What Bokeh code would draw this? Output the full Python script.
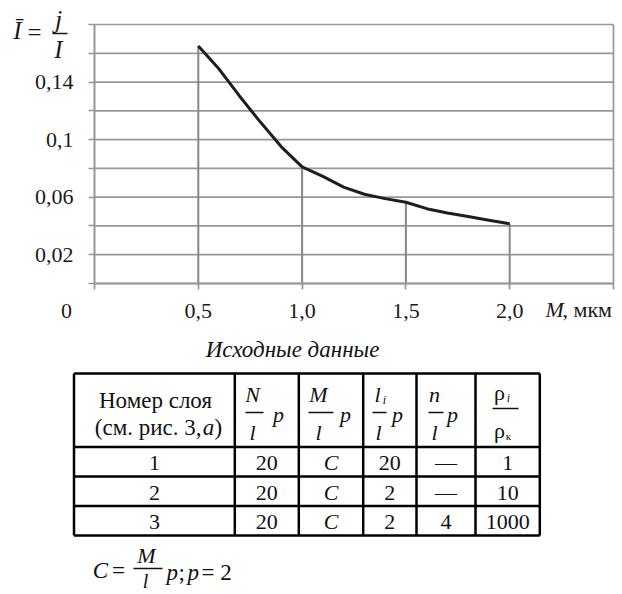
from bokeh.plotting import figure
from bokeh.models import Range1d, FixedTicker, Label
from bokeh.layouts import column
from bokeh.embed import file_html
from bokeh.resources import INLINE
from bokeh.core.properties import value

# ---------------- data ----------------
m_um = [0.5, 0.6, 0.7, 0.8, 0.9, 1.0, 1.1, 1.2, 1.3, 1.4, 1.5, 1.6, 1.7, 1.8, 1.9, 2.0]
i_rel = [0.165, 0.149, 0.130, 0.112, 0.095, 0.081, 0.0745, 0.067, 0.062, 0.059,
         0.0565, 0.052, 0.049, 0.0465, 0.044, 0.0415]
drop_m = [0.5, 1.0, 1.5, 2.0]

x_tick_values = [0.0, 0.5, 1.0, 1.5, 2.0, 2.5]
x_tick_labels = ["", "0,5", "1,0", "1,5", "2,0", ""]
y_tick_values = [0.0, 0.02, 0.04, 0.06, 0.08, 0.1, 0.12, 0.14, 0.16, 0.18]
y_tick_labels = ["", "0,02", "", "0,06", "", "0,1", "", "0,14", "", ""]

caption = "Исходные данные"
hdr_layer = ["Номер слоя", "(см. рис. 3,", "a", ")"]
col_layer = ["1", "2", "3"]
col_N = ["20", "20", "20"]
col_M = ["C", "C", "C"]
col_li = ["20", "2", "2"]
col_n = ["—", "—", "4"]
col_rho = ["1", "10", "1000"]

FONT = "Liberation Serif"
GRID = "#979797"
INK = "#1a1a1a"

# ---------------- chart ----------------
W, H = 622, 330
FL, FR, FT, FB = 94, 613, 24, 283       # pixel box of the plotting area
XMAX, YMAX = 2.5, 0.18

def dx(px):
    return (px - FL) * XMAX / (FR - FL)

def dy(py):
    return (FB - py) * YMAX / (FB - FT)

p = figure(width=W, height=H, x_range=Range1d(dx(0), dx(W)), y_range=Range1d(dy(H), dy(0)),
           output_backend="svg", toolbar_location=None, frame_align=False, min_border=0)
p.outline_line_color = None
p.xgrid.visible = False
p.ygrid.visible = False

for ax in (p.xaxis, p.yaxis):
    ax.fixed_location = 0
    ax.axis_line_color = GRID
    ax.axis_line_width = 2
    ax.major_tick_line_color = GRID
    ax.major_tick_line_width = 1.7
    ax.major_tick_out = 6
    ax.major_tick_in = 0
    ax.minor_tick_line_color = None
    ax.major_label_text_font = FONT
    ax.major_label_text_font_size = "22px"
    ax.major_label_text_color = INK

p.xaxis.bounds = (0, XMAX)
p.yaxis.bounds = (0, YMAX)
p.xaxis.ticker = FixedTicker(ticks=x_tick_values)
p.xaxis.major_label_overrides = dict(zip(x_tick_values, x_tick_labels))
p.xaxis.major_label_standoff = 14
p.yaxis.ticker = FixedTicker(ticks=y_tick_values)
p.yaxis.major_label_overrides = dict(zip(y_tick_values, y_tick_labels))
p.yaxis.major_label_standoff = 15

# horizontal grid lines and the right frame edge
n = len(y_tick_values)
p.segment(x0=[0] * n, y0=y_tick_values, x1=[XMAX] * n, y1=y_tick_values,
          line_color=GRID, line_width=1.7)
p.segment(x0=[XMAX], y0=[0], x1=[XMAX], y1=[YMAX], line_color=GRID, line_width=1.7)

drop_i = [i_rel[m_um.index(v)] for v in drop_m]
p.segment(x0=drop_m, y0=[0] * len(drop_m), x1=drop_m, y1=drop_i,
          line_color="#878787", line_width=2)
p.line(m_um, i_rel, line_color="#1e1e1e", line_width=3)

def lab(px, py, text, size="22px", style="normal", align="center"):
    p.add_layout(Label(x=dx(px), y=dy(py), text=text, text_align=align,
                       text_baseline="middle", text_font=FONT,
                       text_font_size=size, text_font_style=style,
                       text_color=INK))

lab(66, 310, "0")
lab(545, 309, "M", style="italic", align="left")
lab(562, 309, ", мкм", align="left")
# y title:  Ī = j / I
lab(17, 30, "Ī", size="25px", style="italic")
lab(34, 32, "=", size="25px")
lab(58, 19, "j", size="26px", style="italic")
p.segment(x0=[dx(52)], y0=[dy(33)], x1=[dx(67)], y1=[dy(33)], line_color=INK, line_width=1.3)
lab(58, 49, "I", size="25px", style="italic")

# ---------------- table ----------------
H2 = 594 - H
t = figure(width=W, height=H2, x_range=Range1d(0, W), y_range=Range1d(594, H),
           output_backend="svg", toolbar_location=None, frame_align=False,
           x_axis_location=None, y_axis_location=None, min_border=0)
t.outline_line_color = None
t.xgrid.visible = False
t.ygrid.visible = False

def txt(xs, ys, texts, size="22px", style="normal", align="center"):
    t.text(x=xs, y=ys, text=texts, text_align=align, text_baseline="middle",
           text_font=value(FONT), text_font_size=value(size),
           text_font_style=value(style), text_color="#111111")

txt([292], [349], [caption], size="23px", style="italic")

col_x = [73.5, 234.3, 298.3, 362.7, 416, 475, 539.3]
row_y = [373, 446.5, 476, 505.5, 535]
t.segment(x0=[col_x[0]] * len(row_y), y0=row_y, x1=[col_x[-1]] * len(row_y), y1=row_y,
          line_color="black", line_width=2.5)
t.segment(x0=col_x, y0=[row_y[0]] * len(col_x), x1=col_x, y1=[row_y[-1]] * len(col_x),
          line_color="black", line_width=2.5)

# header, column 1
txt([155], [400], [hdr_layer[0]], size="23px")
txt([201], [427], [hdr_layer[1]], size="23px", align="right")
txt([208], [427], [hdr_layer[2]], size="23px", style="italic")
txt([214], [427], [hdr_layer[3]], size="23px", align="left")

# header fractions:  N/l p,  M/l p,  l_i/l p,  n/l p
num_x = [252, 318, 377, 434]
den_x = [252, 318, 378, 434]
p_x = [278, 345, 397, 452]
bar_x0 = [245, 308, 372, 428]
bar_x1 = [263, 333, 386, 443]
txt(num_x, [394] * 4, ["N", "M", "l", "n"], style="italic")
txt(den_x, [432] * 4, ["l", "l", "l", "l"], style="italic")
txt(p_x, [414] * 4, ["p", "p", "p", "p"], style="italic")
txt([384], [399], ["i"], size="12px", style="italic")
t.segment(x0=bar_x0, y0=[412] * 4, x1=bar_x1, y1=[412] * 4, line_color="#111111", line_width=1.3)
# rho_i / rho_k
txt([499, 499], [392, 430], ["ρ", "ρ"], size="22px")
txt([508], [397], ["i"], size="12px", style="italic")
txt([508], [435], ["к"], size="11px")
t.segment(x0=[492], y0=[408], x1=[518], y1=[408], line_color="#111111", line_width=1.3)

# body rows
centers = [(col_x[k] + col_x[k + 1]) / 2 for k in range(6)]
body_y = [462, 492, 521]
for k, colvals in enumerate([col_layer, col_N, col_M, col_li, col_n, col_rho]):
    txt([centers[k]] * 3, body_y, colvals, style="italic" if colvals is col_M else "normal")

# footnote: C = M/l p; p = 2
txt([100], [570], ["C"], size="23px", style="italic")
txt([118], [570], ["="], size="23px")
txt([146], [555], ["M"], size="22px", style="italic")
txt([145], [580], ["l"], size="20px", style="italic")
t.segment(x0=[133], y0=[568], x1=[162], y1=[568], line_color="#111111", line_width=1.3)
txt([166], [572], ["p"], size="23px", style="italic", align="left")
txt([178], [572], [";"], size="23px", align="left")
txt([187], [572], ["p"], size="23px", style="italic", align="left")
txt([201], [572], ["= 2"], size="23px", align="left")

layout = column(p, t, spacing=0)
with open("out.html", "w", encoding="utf-8") as f:
    f.write(file_html(layout, INLINE))
